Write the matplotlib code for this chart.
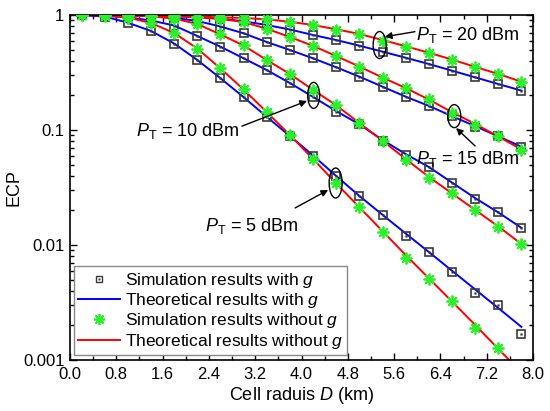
import matplotlib
matplotlib.use("Agg")
import matplotlib.pyplot as plt
from matplotlib.patches import Ellipse
from matplotlib.lines import Line2D
from matplotlib.ticker import MultipleLocator, FixedLocator, NullFormatter, LogLocator

plt.rcParams['font.family'] = ['Liberation Sans', 'DejaVu Sans']
plt.rcParams['mathtext.fontset'] = 'custom'
plt.rcParams['mathtext.rm'] = 'Liberation Sans'
plt.rcParams['mathtext.it'] = 'Liberation Sans:italic'

# ---------------- data ----------------
D_sim = [0.2, 0.6, 1.0, 1.4, 1.8, 2.2, 2.6, 3.0, 3.4, 3.8,
         4.2, 4.6, 5.0, 5.4, 5.8, 6.2, 6.6, 7.0, 7.4, 7.8]
D_theory = [0.0] + D_sim

# theoretical results without g (red)
th_wo_20 = [1.0, 1.0, 0.999, 0.996, 0.990, 0.980, 0.968, 0.955, 0.942, 0.917, 0.873,
            0.818, 0.751, 0.684, 0.606, 0.535, 0.470, 0.410, 0.354, 0.307, 0.263]
th_wo_15 = [1.0, 1.0, 0.999, 0.997, 0.990, 0.978, 0.959, 0.927, 0.869, 0.759, 0.644,
            0.538, 0.440, 0.356, 0.286, 0.232, 0.184, 0.143, 0.113, 0.0878, 0.0677]
th_wo_10 = [1.0, 1.0, 0.996, 0.992, 0.974, 0.932, 0.835, 0.677, 0.543, 0.406, 0.307,
            0.223, 0.164, 0.115, 0.0807, 0.0560, 0.0391, 0.0281, 0.0202, 0.0145, 0.0102]
th_wo_5 = [1.0, 1.0, 0.990, 0.951, 0.852, 0.697, 0.511, 0.343, 0.225, 0.143, 0.0904,
           0.0560, 0.0343, 0.0213, 0.0132, 0.00818, 0.00514, 0.00323, 0.00202, 0.00125, 0.00078]

# theoretical results with g (blue)
th_w_20 = [1.0, 1.0, 0.998, 0.994, 0.986, 0.974, 0.957, 0.927, 0.882, 0.818, 0.748,
           0.670, 0.606, 0.541, 0.480, 0.425, 0.375, 0.328, 0.287, 0.251, 0.220]
th_w_15 = [1.0, 1.0, 0.997, 0.990, 0.976, 0.945, 0.887, 0.794, 0.693, 0.582, 0.496,
           0.420, 0.351, 0.291, 0.238, 0.195, 0.162, 0.132, 0.108, 0.0880, 0.0716]
th_w_10 = [1.0, 1.0, 0.988, 0.955, 0.896, 0.810, 0.657, 0.530, 0.420, 0.332, 0.256,
           0.194, 0.146, 0.112, 0.0819, 0.0618, 0.0477, 0.0349, 0.0256, 0.0192, 0.0141]
th_w_5 = [1.0, 0.996, 0.970, 0.857, 0.726, 0.565, 0.406, 0.282, 0.193, 0.130, 0.0886,
          0.0600, 0.0398, 0.0267, 0.0183, 0.0126, 0.00869, 0.00598, 0.00411, 0.00283, 0.00194]

# simulation results without g (green stars)
sim_wo_20 = [1.0, 0.999, 0.996, 0.990, 0.980, 0.968, 0.955, 0.942, 0.917, 0.873,
             0.818, 0.745, 0.690, 0.590, 0.530, 0.470, 0.405, 0.350, 0.307, 0.263]
sim_wo_15 = [1.0, 0.999, 0.997, 0.990, 0.978, 0.959, 0.927, 0.869, 0.759, 0.644,
             0.538, 0.440, 0.356, 0.283, 0.234, 0.185, 0.140, 0.110, 0.0887, 0.067]
sim_wo_10 = [1.0, 0.996, 0.992, 0.974, 0.932, 0.835, 0.677, 0.543, 0.406, 0.307,
             0.223, 0.165, 0.114, 0.0807, 0.0548, 0.0385, 0.0282, 0.0201, 0.0144, 0.0102]
sim_wo_5 = [1.0, 0.990, 0.951, 0.852, 0.697, 0.511, 0.343, 0.225, 0.143, 0.0904,
            0.0560, 0.0343, 0.0213, 0.0130, 0.0077, 0.00510, 0.00323, 0.00190, 0.00126]

# simulation results with g (squares)
sim_w_20 = [1.0, 0.998, 0.994, 0.986, 0.974, 0.957, 0.927, 0.882, 0.818, 0.748,
            0.670, 0.606, 0.541, 0.480, 0.425, 0.375, 0.328, 0.287, 0.251, 0.220]
sim_w_15 = [1.0, 0.997, 0.990, 0.976, 0.945, 0.887, 0.794, 0.693, 0.582, 0.496,
            0.420, 0.351, 0.291, 0.238, 0.195, 0.162, 0.132, 0.107, 0.0887, 0.0716]
sim_w_10 = [1.0, 0.988, 0.955, 0.896, 0.810, 0.657, 0.530, 0.420, 0.332, 0.256,
            0.194, 0.144, 0.113, 0.0807, 0.0606, 0.0480, 0.0348, 0.0250, 0.0192, 0.0141]
sim_w_5 = [0.996, 0.970, 0.857, 0.726, 0.565, 0.406, 0.282, 0.193, 0.130, 0.0886,
           0.0600, 0.0398, 0.0267, 0.0183, 0.0120, 0.00869, 0.00580, 0.00385, 0.00300, 0.00167]

x_ticks = [0.0, 0.8, 1.6, 2.4, 3.2, 4.0, 4.8, 5.6, 6.4, 7.2, 8.0]
y_ticks = [0.001, 0.01, 0.1, 1]
y_labels = ['0.001', '0.01', '0.1', '1']

annot_labels = [r'$\mathit{P}_{\mathrm{T}}$ = 20 dBm', r'$\mathit{P}_{\mathrm{T}}$ = 15 dBm',
                r'$\mathit{P}_{\mathrm{T}}$ = 10 dBm', r'$\mathit{P}_{\mathrm{T}}$ = 5 dBm']

# ---------------- figure ----------------
fig = plt.figure(figsize=(5.5, 4.11), dpi=100)
ax = fig.add_axes([70/550, 1-360/411, 463/550, 345/411])

red = '#ff0000'
blue = '#0000ff'
green = '#2af02a'
gray = '#383838'
star = (8, 2, 0)

for th in [th_w_20, th_w_15, th_w_10, th_w_5]:
    ax.plot(D_theory, th, color=blue, lw=1.4, zorder=2)
for th in [th_wo_20, th_wo_15, th_wo_10, th_wo_5]:
    ax.plot(D_theory, th, color=red, lw=1.4, zorder=2)
for s in [sim_w_20, sim_w_15, sim_w_10, sim_w_5]:
    ax.plot(D_sim[:len(s)], s, ls='none', marker='s', ms=5.8, mfc='none', mec=gray, mew=1.2, zorder=3)
    ax.plot(D_sim[:len(s)], s, ls='none', marker='s', ms=1.2, mfc=gray, mec=gray, mew=0.3, zorder=3)
for s in [sim_wo_20, sim_wo_15, sim_wo_10, sim_wo_5]:
    ax.plot(D_sim[:len(s)], s, ls='none', marker=star, ms=8.5, color=green, mew=1.3, zorder=4)

ax.set_yscale('log')
ax.set_xlim(0, 8)
ax.set_ylim(0.001, 1)
ax.xaxis.set_major_locator(FixedLocator(x_ticks))
ax.set_xticklabels(['%.1f' % t for t in x_ticks])
ax.xaxis.set_minor_locator(MultipleLocator(0.4))
ax.yaxis.set_major_locator(FixedLocator(y_ticks))
ax.set_yticklabels(y_labels)
ax.yaxis.set_minor_locator(LogLocator(base=10, subs=range(2, 10)))
ax.yaxis.set_minor_formatter(NullFormatter())
ax.tick_params(which='both', direction='in', top=True, right=True, labelsize=12, width=1.0)
ax.tick_params(axis='x', pad=5)
ax.tick_params(axis='y', pad=4)
ax.tick_params(which='major', length=5)
ax.tick_params(which='minor', length=3)
for sp in ax.spines.values():
    sp.set_linewidth(1.2)

ax.set_xlabel(r'Cell raduis $\mathit{D}$ (km)', fontsize=13, labelpad=2)
ax.set_ylabel('ECP', fontsize=13, labelpad=0)

# legend
class _H:
    pass
handles = [
    (Line2D([], [], ls='none', marker='s', ms=4.5, mfc='none', mec=gray, mew=1.0),
     Line2D([], [], ls='none', marker='s', ms=1.0, mfc=gray, mec=gray, mew=0.3)),
    Line2D([], [], color=blue, lw=1.4),
    Line2D([], [], ls='none', marker=star, ms=8, color=green, mew=1.3),
    Line2D([], [], color=red, lw=1.4),
]
labels = [r'Simulation results with $\mathit{g}$', r'Theoretical results with $\mathit{g}$',
          r'Simulation results without $\mathit{g}$', r'Theoretical results without $\mathit{g}$']
leg = ax.legend(handles, labels, loc='lower left', bbox_to_anchor=(0.008, 0.014), borderaxespad=0,
                fontsize=12.5, frameon=True, fancybox=False, edgecolor='#888888', framealpha=1,
                handlelength=2.4, handletextpad=0.3, labelspacing=0.08, borderpad=0.25)
leg.get_frame().set_linewidth(1.0)

# annotations
fig.canvas.draw()
def d2a(x, y):
    return ax.transAxes.inverted().transform(ax.transData.transform((x, y)))

ell_D = [5.35, 6.64, 4.21, 4.59]
ell_v = [0.548, 0.132, 0.20, 0.0346]
ell_w = [13, 13, 12, 13]
ell_h = [27, 23, 26, 30]
txt_D = [6.88, 6.88, 2.04, 3.14]
txt_v = [0.67, 0.0561, 0.098, 0.0147]
tail_D = [5.96, 7.0, 2.97, 3.89]
tail_v = [0.716, 0.0726, 0.108, 0.0210]
head_D = [5.44, 6.67, 4.095, 4.46]
head_v = [0.647, 0.104, 0.179, 0.0301]

for i in range(4):
    c = d2a(ell_D[i], ell_v[i])
    e = Ellipse(c, ell_w[i]/463, ell_h[i]/345, transform=ax.transAxes, fill=False,
                edgecolor='black', lw=1.0, zorder=5)
    ax.add_patch(e)
    ax.text(txt_D[i], txt_v[i], annot_labels[i], fontsize=13, ha='center', va='center', zorder=6)
    ax.annotate('', xy=(head_D[i], head_v[i]), xytext=(tail_D[i], tail_v[i]),
                arrowprops=dict(arrowstyle='-|>', color='black', lw=1.0, mutation_scale=10,
                                shrinkA=0, shrinkB=0), zorder=6)

fig.savefig('out.png', dpi=100)
